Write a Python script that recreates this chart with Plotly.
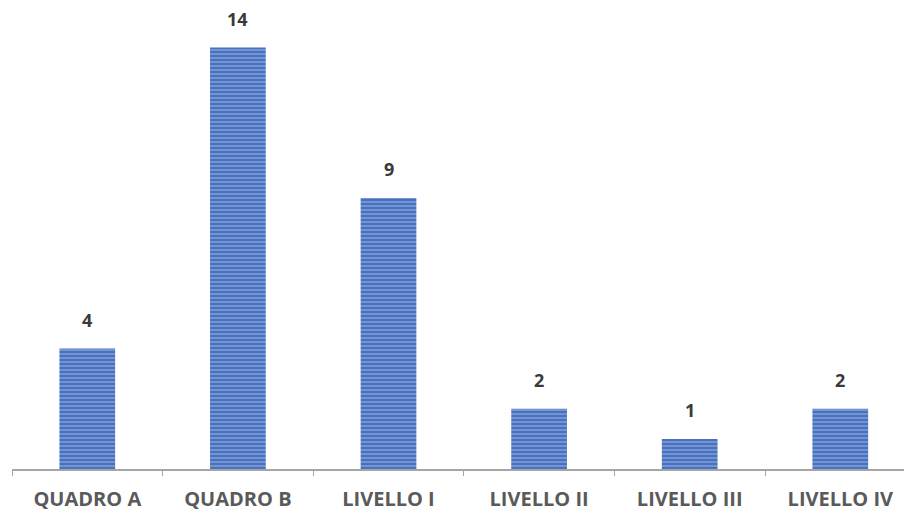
import plotly.graph_objects as go

categories = ["QUADRO A", "QUADRO B", "LIVELLO I", "LIVELLO II", "LIVELLO III", "LIVELLO IV"]
values = [4, 14, 9, 2, 1, 2]

fig = go.Figure()
fig.add_trace(go.Bar(
    x=categories,
    y=values,
    width=0.37,
    marker=dict(
        color="#4a76c4",
        line=dict(width=0),
        pattern=dict(shape="-", fgcolor="#c3d3ef", bgcolor="#4872c0", size=4, solidity=0.35, fillmode="overlay"),
    ),
    hoverinfo="skip",
))

for c, v in zip(categories, values):
    fig.add_annotation(
        x=c, y=v, text=str(v), showarrow=False, yanchor="bottom", yshift=15,
        font=dict(family="Open Sans", size=18, color="#3a3a3a", weight=700),
    )

fig.update_layout(
    width=904, height=513,
    margin=dict(l=12, r=0, t=0, b=44),
    paper_bgcolor="white", plot_bgcolor="white",
    showlegend=False,
)
fig.update_xaxes(
    type="category",
    range=[-0.5, 5.423],
    automargin=False,
    showline=True, linecolor="#a6a6a6", linewidth=2,
    ticks="outside", tickson="boundaries", ticklen=5, tickcolor="#a6a6a6", tickwidth=1,
    tickfont=dict(family="Open Sans", size=20, color="#5a5a5a", weight=700),
    ticklabelstandoff=11,
    showgrid=False, zeroline=False,
)
fig.update_yaxes(range=[0, 15.58], visible=False, showgrid=False, zeroline=False, automargin=False)

fig.write_html("out.html")
